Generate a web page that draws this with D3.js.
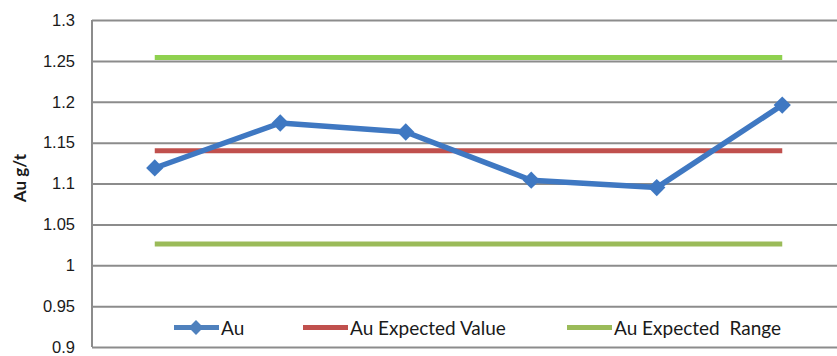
<!DOCTYPE html>
<html>
<head>
<meta charset="utf-8">
<script src="https://cdn.jsdelivr.net/npm/d3@7"></script>
<style>
  html, body { margin: 0; padding: 0; background: #fff; }
  svg { display: block; font-family: Lato, "Open Sans", sans-serif; }
</style>
</head>
<body>
<svg id="chart" width="837" height="356"></svg>
<script>
// Sample sequence and assay results
const samples = ["1", "2", "3", "4", "5", "6"];
const auValues = [1.119, 1.174, 1.163, 1.104, 1.095, 1.196];
const expectedValue = 1.14;
const expectedRangeHigh = 1.254;
const expectedRangeLow = 1.026;
const yTicks = [0.9, 0.95, 1, 1.05, 1.1, 1.15, 1.2, 1.25, 1.3];
const legendLabels = ["Au", "Au Expected Value", "Au Expected  Range"];

(function () {
  const svg = d3.select("#chart");
  const plotL = 92, plotR = 845, plotT = 20, plotB = 347;

  const x = d3.scaleBand().domain(samples).range([plotL, plotR]);
  const y = d3.scaleLinear().domain([0.9, 1.3]).range([plotB, plotT]);
  const cx = d => x(d) + x.bandwidth() / 2;

  // Horizontal gridlines
  const yAxis = d3.axisLeft(y).tickValues(yTicks).tickSize(-(plotR - plotL)).tickPadding(17)
    .tickFormat(d => String(+d.toFixed(2)));
  const gy = svg.append("g").attr("transform", `translate(${plotL},0)`).call(yAxis);
  gy.select(".domain").remove();
  gy.selectAll(".tick line").attr("stroke", "#8c8c8c").attr("stroke-width", 2);
  gy.selectAll(".tick text").attr("fill", "#1a1a1a").style("font-size", "16.5px");

  // Left axis line
  svg.append("line").attr("x1", plotL).attr("x2", plotL).attr("y1", plotT).attr("y2", plotB)
    .attr("stroke", "#8c8c8c").attr("stroke-width", 2);

  // Axis title
  svg.append("text")
    .attr("transform", `translate(26,178) rotate(-90)`)
    .attr("text-anchor", "middle")
    .style("font-size", "17px").style("font-weight", "bold").attr("fill", "#1a1a1a")
    .text("Au g/t");

  const x0 = cx(samples[0]), x1 = cx(samples[samples.length - 1]);

  // Expected range and expected value lines
  const hline = (v, color) => svg.append("line")
    .attr("x1", x0).attr("x2", x1).attr("y1", y(v)).attr("y2", y(v))
    .attr("stroke", color).attr("stroke-width", 5);
  hline(expectedRangeHigh, "#8fd14f");
  hline(expectedRangeLow, "#9bbb59");
  hline(expectedValue, "#c0504d");

  // Au series
  const line = d3.line().x((d, i) => cx(samples[i])).y(d => y(d));
  svg.append("path").datum(auValues).attr("d", line)
    .attr("fill", "none").attr("stroke", "#3f78c2").attr("stroke-width", 5.5)
    .attr("stroke-linejoin", "round");
  const diamond = d3.symbol().type(d3.symbolDiamond2).size(190);
  svg.selectAll(".pt").data(auValues).enter().append("path")
    .attr("transform", (d, i) => `translate(${cx(samples[i])},${y(d)})`)
    .attr("d", diamond).attr("fill", "#3f78c2");

  // Legend
  const legY = 327.5;
  svg.append("rect").attr("x", 168).attr("y", 314).attr("width", 640).attr("height", 28).attr("fill", "#fff");
  const legItems = [
    { x: 174, color: "#4f81bd", marker: true, label: legendLabels[0] },
    { x: 303, color: "#c0504d", marker: false, label: legendLabels[1] },
    { x: 567, color: "#9bbb59", marker: false, label: legendLabels[2] }
  ];
  legItems.forEach(it => {
    svg.append("line").attr("x1", it.x).attr("x2", it.x + 45).attr("y1", legY).attr("y2", legY)
      .attr("stroke", it.color).attr("stroke-width", 5);
    if (it.marker) {
      svg.append("path").attr("transform", `translate(${it.x + 22},${legY})`)
        .attr("d", d3.symbol().type(d3.symbolDiamond2).size(140)).attr("fill", it.color);
    }
    svg.append("text").attr("x", it.x + 47).attr("y", legY + 7)
      .style("font-size", "19px").attr("fill", "#1a1a1a")
      .style("white-space", "pre")
      .text(it.label);
  });
})();
</script>
</body>
</html>
